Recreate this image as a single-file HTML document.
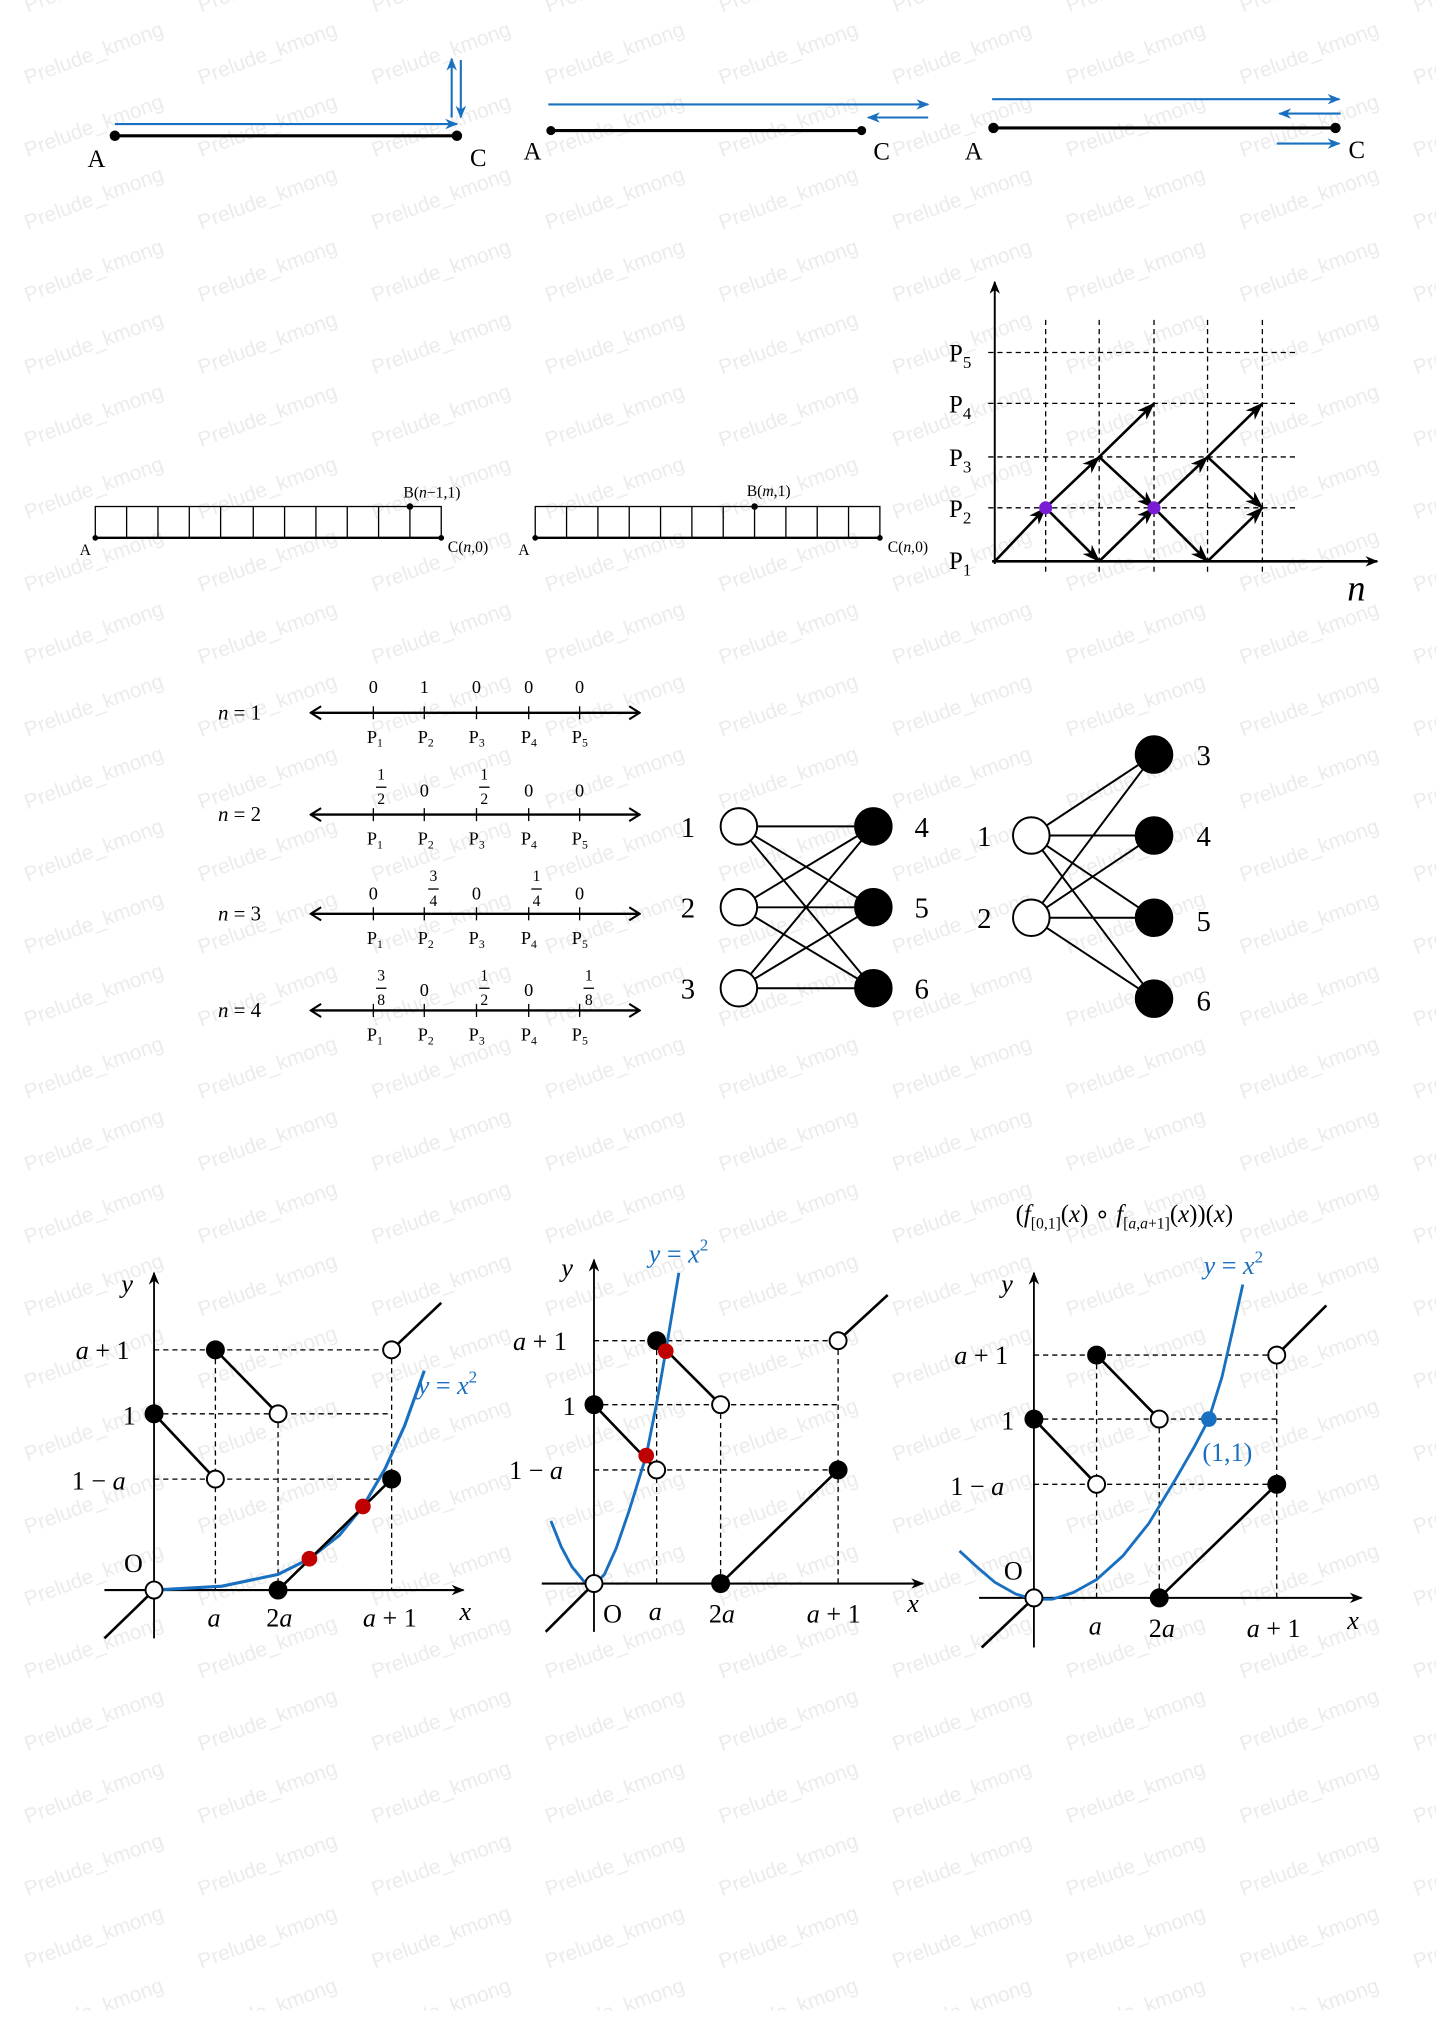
<!DOCTYPE html>
<html><head><meta charset="utf-8"><style>
html,body{margin:0;padding:0;background:#fff}
svg{display:block}
.s{font-family:"Liberation Serif",serif}
.i{font-family:"Liberation Serif",serif;font-style:italic}
</style></head><body>
<svg width="1436" height="2030" viewBox="0 0 1100 1555" preserveAspectRatio="none" xmlns="http://www.w3.org/2000/svg">
<defs>
<pattern id="wm" patternUnits="userSpaceOnUse" x="0" y="10" width="133" height="55.5">
<g fill="#ebebeb" font-family="Liberation Sans, sans-serif" font-size="16">
<text transform="translate(21,55) rotate(-20)">Prelude_kmong</text>
<text transform="translate(-112,55) rotate(-20)">Prelude_kmong</text>
<text transform="translate(21,-0.5) rotate(-20)">Prelude_kmong</text>
<text transform="translate(-112,-0.5) rotate(-20)">Prelude_kmong</text>
<text transform="translate(21,110.5) rotate(-20)">Prelude_kmong</text>
<text transform="translate(-112,110.5) rotate(-20)">Prelude_kmong</text>
</g></pattern>
<marker id="ab" markerWidth="10" markerHeight="8" refX="9" refY="4" orient="auto" markerUnits="userSpaceOnUse"><path d="M0,0 L10,4 L0,8 L3,4 Z" fill="#1a70c0"/></marker>
<marker id="ak" markerWidth="14" markerHeight="10" refX="13" refY="5" orient="auto" markerUnits="userSpaceOnUse"><path d="M0,0 L14,5 L0,10 L4,5 Z" fill="#000"/></marker>
<marker id="ax" markerWidth="10" markerHeight="8" refX="9" refY="4" orient="auto" markerUnits="userSpaceOnUse"><path d="M0,0 L10,4 L0,8 L3,4 Z" fill="#000"/></marker>
<marker id="ch" markerWidth="10" markerHeight="12" refX="9" refY="6" orient="auto-start-reverse" markerUnits="userSpaceOnUse"><path d="M1,1 L9,6 L1,11" fill="none" stroke="#000" stroke-width="1.6"/></marker>
</defs>
<rect width="1100" height="1555" fill="#fff"/>
<rect x="0" y="0" width="1100" height="1540" fill="url(#wm)"/>

<!-- top row -->
<g stroke="#1a70c0" stroke-width="1.6" fill="none">
<line x1="88" y1="95" x2="350" y2="95" marker-end="url(#ab)"/>
<line x1="346" y1="90" x2="346" y2="45" marker-end="url(#ab)"/>
<line x1="353" y1="46" x2="353" y2="90" marker-end="url(#ab)"/>
<line x1="420" y1="80" x2="711" y2="80" marker-end="url(#ab)"/>
<line x1="711" y1="90" x2="665" y2="90" marker-end="url(#ab)"/>
<line x1="760" y1="76" x2="1026" y2="76" marker-end="url(#ab)"/>
<line x1="1027" y1="87" x2="980" y2="87" marker-end="url(#ab)"/>
<line x1="978" y1="110" x2="1026" y2="110" marker-end="url(#ab)"/>
</g>
<g stroke="#000" stroke-width="2.4">
<line x1="88" y1="104" x2="350" y2="104"/>
<line x1="422" y1="100" x2="660" y2="100"/>
<line x1="761" y1="98" x2="1023" y2="98"/>
</g>
<g fill="#000"><circle cx="88" cy="104" r="4"/><circle cx="350" cy="104" r="4"/><circle cx="422" cy="100" r="3.5"/><circle cx="660" cy="100" r="3.5"/><circle cx="761" cy="98" r="4"/><circle cx="1023" cy="98" r="4"/></g>
<g class="s" font-size="19">
<text x="67" y="128">A</text><text x="360" y="127">C</text>
<text x="401" y="122">A</text><text x="669" y="122">C</text>
<text x="739" y="122">A</text><text x="1033" y="121">C</text>
</g>

<!-- grid bars -->
<g stroke="#000" stroke-width="1" fill="none">
<rect x="73" y="388" width="265" height="24"/>
<path d="M97 388V412M121 388V412M145 388V412M169 388V412M194 388V412M218 388V412M242 388V412M266 388V412M290 388V412M314 388V412"/>
<rect x="410" y="388" width="264" height="24"/>
<path d="M434 388V412M458 388V412M482 388V412M506 388V412M530 388V412M554 388V412M578 388V412M602 388V412M626 388V412M650 388V412"/>
</g>
<line x1="73" y1="412" x2="338" y2="412" stroke="#000" stroke-width="1.8"/>
<line x1="410" y1="412" x2="674" y2="412" stroke="#000" stroke-width="1.8"/>
<g fill="#000"><circle cx="73" cy="412" r="2.2"/><circle cx="338" cy="412" r="2.2"/><circle cx="314" cy="388" r="2.5"/><circle cx="410" cy="412" r="2.2"/><circle cx="674" cy="412" r="2.2"/><circle cx="578" cy="388" r="2.5"/></g>
<g class="s" font-size="12">
<text x="61" y="425">A</text><text x="343" y="423">C(<tspan font-style="italic">n</tspan>,0)</text>
<text x="309" y="381">B(<tspan font-style="italic">n</tspan>−1,1)</text>
<text x="397" y="425">A</text><text x="680" y="423">C(<tspan font-style="italic">n</tspan>,0)</text>
<text x="572" y="380">B(<tspan font-style="italic">m</tspan>,1)</text>
</g>

<!-- lattice -->
<g stroke="#000" stroke-width="1" stroke-dasharray="4,3">
<path d="M801 245V440M842 245V440M884 245V440M925 245V440M967 245V440"/>
<path d="M757 270H995M757 309H995M757 350H995M757 389H995"/>
</g>
<line x1="762" y1="432" x2="762" y2="216" stroke="#000" stroke-width="1.5" marker-end="url(#ax)"/>
<line x1="760" y1="430" x2="1055" y2="430" stroke="#000" stroke-width="2" marker-end="url(#ax)"/>
<g stroke="#000" stroke-width="2" marker-end="url(#ak)">
<line x1="762" y1="430" x2="801" y2="389"/>
<line x1="801" y1="389" x2="842" y2="350"/>
<line x1="842" y1="350" x2="884" y2="309"/>
<line x1="842" y1="350" x2="884" y2="389"/>
<line x1="801" y1="389" x2="842" y2="430"/>
<line x1="842" y1="430" x2="884" y2="389"/>
<line x1="884" y1="389" x2="925" y2="350"/>
<line x1="925" y1="350" x2="967" y2="309"/>
<line x1="925" y1="350" x2="967" y2="389"/>
<line x1="884" y1="389" x2="925" y2="430"/>
<line x1="925" y1="430" x2="967" y2="389"/>
</g>
<circle cx="801" cy="389" r="5" fill="#7a1bd6"/><circle cx="884" cy="389" r="5" fill="#7a1bd6"/>
<g class="s" font-size="19">
<text x="727" y="277">P<tspan font-size="13" dy="5">5</tspan></text>
<text x="727" y="316">P<tspan font-size="13" dy="5">4</tspan></text>
<text x="727" y="357">P<tspan font-size="13" dy="5">3</tspan></text>
<text x="727" y="396">P<tspan font-size="13" dy="5">2</tspan></text>
<text x="727" y="436">P<tspan font-size="13" dy="5">1</tspan></text>
</g>
<text class="i" x="1032" y="460" font-size="28">n</text>

<!-- number lines -->
<g stroke="#000" stroke-width="1.8">
<line x1="238" y1="546" x2="490" y2="546" marker-start="url(#ch)" marker-end="url(#ch)"/>
<line x1="238" y1="624" x2="490" y2="624" marker-start="url(#ch)" marker-end="url(#ch)"/>
<line x1="238" y1="700" x2="490" y2="700" marker-start="url(#ch)" marker-end="url(#ch)"/>
<line x1="238" y1="774" x2="490" y2="774" marker-start="url(#ch)" marker-end="url(#ch)"/>
</g>
<g stroke="#000" stroke-width="1">
<path d="M286 541V551M325 541V551M365 541V551M405 541V551M444 541V551"/>
<path d="M286 619V629M325 619V629M365 619V629M405 619V629M444 619V629"/>
<path d="M286 695V705M325 695V705M365 695V705M405 695V705M444 695V705"/>
<path d="M286 769V779M325 769V779M365 769V779M405 769V779M444 769V779"/>
</g>
<g class="s" font-size="14" text-anchor="middle">
<g><text x="286" y="531">0</text><text x="325" y="531">1</text><text x="365" y="531">0</text><text x="405" y="531">0</text><text x="444" y="531">0</text></g>
<g><text x="325" y="610">0</text><text x="405" y="610">0</text><text x="444" y="610">0</text>
<text x="292" y="597" font-size="12">1</text><line x1="288" y1="603" x2="296" y2="603" stroke="#000"/><text x="292" y="616" font-size="12">2</text>
<text x="371" y="597" font-size="12">1</text><line x1="367" y1="603" x2="375" y2="603" stroke="#000"/><text x="371" y="616" font-size="12">2</text></g>
<g><text x="286" y="689">0</text><text x="365" y="689">0</text><text x="444" y="689">0</text>
<text x="332" y="675" font-size="12">3</text><line x1="328" y1="681" x2="336" y2="681" stroke="#000"/><text x="332" y="694" font-size="12">4</text>
<text x="411" y="675" font-size="12">1</text><line x1="407" y1="681" x2="415" y2="681" stroke="#000"/><text x="411" y="694" font-size="12">4</text></g>
<g><text x="325" y="763">0</text><text x="405" y="763">0</text>
<text x="292" y="751" font-size="12">3</text><line x1="288" y1="757" x2="296" y2="757" stroke="#000"/><text x="292" y="770" font-size="12">8</text>
<text x="371" y="751" font-size="12">1</text><line x1="367" y1="757" x2="375" y2="757" stroke="#000"/><text x="371" y="770" font-size="12">2</text>
<text x="451" y="751" font-size="12">1</text><line x1="447" y1="757" x2="455" y2="757" stroke="#000"/><text x="451" y="770" font-size="12">8</text></g>
</g>
<g class="s" font-size="14">
<g id="pl"><text x="281" y="569">P<tspan font-size="9" dy="3">1</tspan></text><text x="320" y="569">P<tspan font-size="9" dy="3">2</tspan></text><text x="359" y="569">P<tspan font-size="9" dy="3">3</tspan></text><text x="399" y="569">P<tspan font-size="9" dy="3">4</tspan></text><text x="438" y="569">P<tspan font-size="9" dy="3">5</tspan></text></g>
<g transform="translate(0,78)"><text x="281" y="569">P<tspan font-size="9" dy="3">1</tspan></text><text x="320" y="569">P<tspan font-size="9" dy="3">2</tspan></text><text x="359" y="569">P<tspan font-size="9" dy="3">3</tspan></text><text x="399" y="569">P<tspan font-size="9" dy="3">4</tspan></text><text x="438" y="569">P<tspan font-size="9" dy="3">5</tspan></text></g>
<g transform="translate(0,154)"><text x="281" y="569">P<tspan font-size="9" dy="3">1</tspan></text><text x="320" y="569">P<tspan font-size="9" dy="3">2</tspan></text><text x="359" y="569">P<tspan font-size="9" dy="3">3</tspan></text><text x="399" y="569">P<tspan font-size="9" dy="3">4</tspan></text><text x="438" y="569">P<tspan font-size="9" dy="3">5</tspan></text></g>
<g transform="translate(0,228)"><text x="281" y="569">P<tspan font-size="9" dy="3">1</tspan></text><text x="320" y="569">P<tspan font-size="9" dy="3">2</tspan></text><text x="359" y="569">P<tspan font-size="9" dy="3">3</tspan></text><text x="399" y="569">P<tspan font-size="9" dy="3">4</tspan></text><text x="438" y="569">P<tspan font-size="9" dy="3">5</tspan></text></g>
</g>
<g class="s" font-size="16">
<text x="167" y="551"><tspan font-style="italic">n</tspan> = 1</text>
<text x="167" y="629"><tspan font-style="italic">n</tspan> = 2</text>
<text x="167" y="705"><tspan font-style="italic">n</tspan> = 3</text>
<text x="167" y="779"><tspan font-style="italic">n</tspan> = 4</text>
</g>

<!-- bipartite 1 -->
<g stroke="#000" stroke-width="1.5">
<path d="M566 633L669 633M566 633L669 695M566 633L669 757M566 695L669 633M566 695L669 695M566 695L669 757M566 757L669 633M566 757L669 695M566 757L669 757"/>
<path d="M790 640L884 578M790 640L884 640M790 640L884 703M790 640L884 765M790 703L884 578M790 703L884 640M790 703L884 703M790 703L884 765"/>
</g>
<g stroke="#000" stroke-width="1.5">
<circle cx="566" cy="633" r="14" fill="#fff"/><circle cx="566" cy="695" r="14" fill="#fff"/><circle cx="566" cy="757" r="14" fill="#fff"/>
<circle cx="669" cy="633" r="14" fill="#000"/><circle cx="669" cy="695" r="14" fill="#000"/><circle cx="669" cy="757" r="14" fill="#000"/>
<circle cx="790" cy="640" r="14" fill="#fff"/><circle cx="790" cy="703" r="14" fill="#fff"/>
<circle cx="884" cy="578" r="14" fill="#000"/><circle cx="884" cy="640" r="14" fill="#000"/><circle cx="884" cy="703" r="14" fill="#000"/><circle cx="884" cy="765" r="14" fill="#000"/>
</g>
<g class="s" font-size="22" text-anchor="middle">
<text x="527" y="641">1</text><text x="527" y="703">2</text><text x="527" y="765">3</text>
<text x="706" y="641">4</text><text x="706" y="703">5</text><text x="706" y="765">6</text>
<text x="754" y="648">1</text><text x="754" y="711">2</text>
<text x="922" y="586">3</text><text x="922" y="648">4</text><text x="922" y="713">5</text><text x="922" y="774">6</text>
</g>

<!-- graph 1 -->
<g stroke="#000" stroke-width="1" stroke-dasharray="4,3">
<path d="M118 1034H300M118 1083H300M118 1133H300M165 1034V1218M213 1083V1218M300 1034V1218"/>
</g>
<line x1="118" y1="1255" x2="118" y2="975" stroke="#000" stroke-width="1.4" marker-end="url(#ax)"/>
<line x1="80" y1="1218" x2="355" y2="1218" stroke="#000" stroke-width="1.6" marker-end="url(#ax)"/>
<polyline points="118,1218 170,1215 213,1206 237,1194 260,1176 278,1154 295,1125 310,1092 325,1050" fill="none" stroke="#1a70c0" stroke-width="2.4"/>
<g stroke="#000" stroke-width="2">
<path d="M118 1083L165 1133M165 1034L213 1083M213 1218L300 1133M300 1034L338 998M80 1255L118 1218"/>
</g>
<g stroke="#000" stroke-width="1.5">
<circle cx="118" cy="1083" r="6.5" fill="#000"/><circle cx="165" cy="1133" r="6.5" fill="#fff"/><circle cx="165" cy="1034" r="6.5" fill="#000"/><circle cx="213" cy="1083" r="6.5" fill="#fff"/><circle cx="213" cy="1218" r="6.5" fill="#000"/><circle cx="300" cy="1133" r="6.5" fill="#000"/><circle cx="300" cy="1034" r="6.5" fill="#fff"/><circle cx="118" cy="1218" r="6.5" fill="#fff"/>
</g>
<circle cx="237" cy="1194" r="6" fill="#c00000"/><circle cx="278" cy="1154" r="6" fill="#c00000"/>
<g class="i" font-size="20">
<text x="93" y="990">y</text><text x="58" y="1041">a<tspan font-style="normal"> + 1</tspan></text>
<text x="94" y="1091" font-style="normal">1</text><text x="55" y="1141" font-style="normal">1 − <tspan font-style="italic">a</tspan></text>
<text x="95" y="1204" font-style="normal">O</text><text x="159" y="1246">a</text><text x="204" y="1246"><tspan font-style="normal">2</tspan>a</text>
<text x="278" y="1246">a<tspan font-style="normal"> + 1</tspan></text><text x="352" y="1241">x</text>
<text x="320" y="1068" fill="#1a70c0">y<tspan font-style="normal"> = </tspan>x<tspan font-size="13" dy="-9" font-style="normal">2</tspan></text>
</g>

<!-- graph 2 -->
<g stroke="#000" stroke-width="1" stroke-dasharray="4,3">
<path d="M455 1027H642M455 1076H642M455 1126H642M503 1027V1213M552 1076V1213M642 1027V1213"/>
</g>
<line x1="455" y1="1250" x2="455" y2="965" stroke="#000" stroke-width="1.4" marker-end="url(#ax)"/>
<line x1="415" y1="1213" x2="707" y2="1213" stroke="#000" stroke-width="1.6" marker-end="url(#ax)"/>
<polyline points="422,1165 430,1185 438,1200 447,1211 455,1214 463,1206 472,1186 482,1157 495,1115 503,1075 510,1035 515,1005 520,975" fill="none" stroke="#1a70c0" stroke-width="2.2"/>
<g stroke="#000" stroke-width="2">
<path d="M455 1076L503 1126M503 1027L552 1076M552 1213L642 1126M642 1027L680 992M418 1250L455 1213"/>
</g>
<g stroke="#000" stroke-width="1.5">
<circle cx="455" cy="1076" r="6.5" fill="#000"/><circle cx="503" cy="1126" r="6.5" fill="#fff"/><circle cx="503" cy="1027" r="6.5" fill="#000"/><circle cx="552" cy="1076" r="6.5" fill="#fff"/><circle cx="552" cy="1213" r="6.5" fill="#000"/><circle cx="642" cy="1126" r="6.5" fill="#000"/><circle cx="642" cy="1027" r="6.5" fill="#fff"/><circle cx="455" cy="1213" r="6.5" fill="#fff"/>
</g>
<circle cx="510" cy="1035" r="6" fill="#c00000"/><circle cx="495" cy="1115" r="6" fill="#c00000"/>
<g class="i" font-size="20">
<text x="430" y="978">y</text><text x="393" y="1034">a<tspan font-style="normal"> + 1</tspan></text>
<text x="431" y="1084" font-style="normal">1</text><text x="390" y="1133" font-style="normal">1 − <tspan font-style="italic">a</tspan></text>
<text x="462" y="1243" font-style="normal">O</text><text x="497" y="1241">a</text><text x="543" y="1243"><tspan font-style="normal">2</tspan>a</text>
<text x="618" y="1243">a<tspan font-style="normal"> + 1</tspan></text><text x="695" y="1235">x</text>
<text x="497" y="967" fill="#1a70c0">y<tspan font-style="normal"> = </tspan>x<tspan font-size="13" dy="-9" font-style="normal">2</tspan></text>
</g>

<!-- graph 3 -->
<text class="i" x="778" y="936" font-size="19"><tspan font-style="normal">(</tspan>f<tspan font-size="12" font-style="normal" dy="5">[0,1]</tspan><tspan dy="-5" font-style="normal">(</tspan>x<tspan font-style="normal">)  ∘  </tspan>f<tspan font-size="12" dy="5"><tspan font-style="normal">[</tspan>a<tspan font-style="normal">,</tspan>a<tspan font-style="normal">+1]</tspan></tspan><tspan dy="-5" font-style="normal">(</tspan>x<tspan font-style="normal">))(</tspan>x<tspan font-style="normal">)</tspan></text>
<g stroke="#000" stroke-width="1" stroke-dasharray="4,3">
<path d="M792 1038H978M792 1087H978M792 1137H978M840 1038V1224M888 1087V1224M978 1038V1224"/>
</g>
<line x1="792" y1="1262" x2="792" y2="975" stroke="#000" stroke-width="1.4" marker-end="url(#ax)"/>
<line x1="750" y1="1224" x2="1043" y2="1224" stroke="#000" stroke-width="1.6" marker-end="url(#ax)"/>
<polyline points="735,1188 748,1200 762,1212 778,1221 792,1225 806,1225 822,1220 840,1210 860,1192 880,1167 900,1134 915,1108 926,1087 936,1055 944,1020 952,984" fill="none" stroke="#1a70c0" stroke-width="2.2"/>
<g stroke="#000" stroke-width="2">
<path d="M792 1087L840 1137M840 1038L888 1087M888 1224L978 1137M978 1038L1016 1000M752 1262L792 1224"/>
</g>
<g stroke="#000" stroke-width="1.5">
<circle cx="792" cy="1087" r="6.5" fill="#000"/><circle cx="840" cy="1137" r="6.5" fill="#fff"/><circle cx="840" cy="1038" r="6.5" fill="#000"/><circle cx="888" cy="1087" r="6.5" fill="#fff"/><circle cx="888" cy="1224" r="6.5" fill="#000"/><circle cx="978" cy="1137" r="6.5" fill="#000"/><circle cx="978" cy="1038" r="6.5" fill="#fff"/><circle cx="792" cy="1224" r="6.5" fill="#fff"/>
</g>
<circle cx="926" cy="1087" r="6" fill="#1a70c0"/>
<g class="i" font-size="20">
<text x="767" y="990">y</text><text x="731" y="1045">a<tspan font-style="normal"> + 1</tspan></text>
<text x="767" y="1095" font-style="normal">1</text><text x="728" y="1145" font-style="normal">1 − <tspan font-style="italic">a</tspan></text>
<text x="769" y="1210" font-style="normal">O</text><text x="834" y="1252">a</text><text x="880" y="1254"><tspan font-style="normal">2</tspan>a</text>
<text x="955" y="1254">a<tspan font-style="normal"> + 1</tspan></text><text x="1032" y="1248">x</text>
<text x="922" y="976" fill="#1a70c0">y<tspan font-style="normal"> = </tspan>x<tspan font-size="13" dy="-9" font-style="normal">2</tspan></text>
<text x="921" y="1119" fill="#1a70c0" font-style="normal">(1,1)</text>
</g>
</svg>
</body></html>
